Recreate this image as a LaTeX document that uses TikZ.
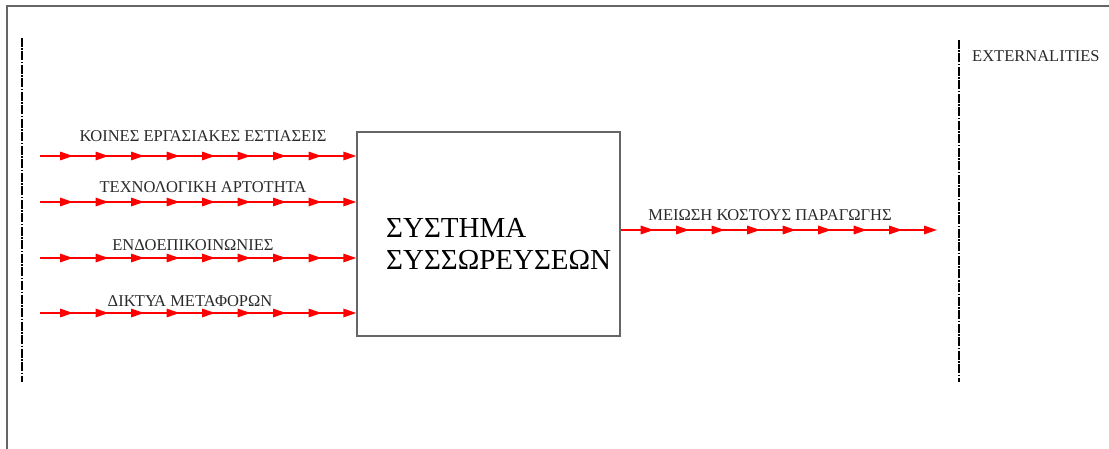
\documentclass[tikz,border=0pt]{standalone}
\usepackage{fontspec}
\setmainfont{Liberation Serif}
\usetikzlibrary{arrows.meta,decorations.markings}
\definecolor{txt}{HTML}{2a2a2a}
\definecolor{frame}{HTML}{666666}
\tikzset{
  flow/.style={draw=red, line width=1.6pt, -{Triangle[length=13pt,width=8.5pt]},
    postaction={decorate},
    decoration={markings, mark=between positions 33pt and 290pt step 35.5pt with {\arrow{Triangle[length=13pt,width=8.5pt]}}}},
  flowlabel/.style={text=txt, font=\fontsize{16.5}{18}\selectfont, inner sep=0pt},
  boundary/.style={draw=black, line width=2.8pt, dash pattern=on 9pt off 1.5pt on 1.5pt off 1.5pt},
  sysbox/.style={draw=frame, line width=1.4pt, minimum width=263pt, minimum height=204pt, inner sep=0pt},
}
\begin{document}
\begin{tikzpicture}[x=1pt,y=-1pt]
\useasboundingbox (0,0) rectangle (1109,449);
% frame
\draw[frame, line width=1.6pt] (7,449) -- (7,6) -- (1109,6);
% boundaries
\coordinate (lt) at (22,38);
\coordinate (lb) at (22,382);
\coordinate (rt) at (959,40);
\coordinate (rb) at (959,382);
\draw[boundary] (lt) -- (lb);
\draw[boundary] (rt) -- (rb);
% central box
\node[sysbox] (box) at (488.5,234) {};
\node[anchor=west, align=left, text=black, font=\fontsize{29}{32}\selectfont, inner sep=0pt] (boxlabel) at (386,244) {ΣΥΣΤΗΜΑ\\ΣΥΣΣΩΡΕΥΣΕΩΝ};
% inputs
\coordinate (s1) at (40,156);
\coordinate (s2) at (40,202);
\coordinate (s3) at (40,258);
\coordinate (s4) at (40,313);
\draw[flow] (s1) -- (s1 -| box.west);
\draw[flow] (s2) -- (s2 -| box.west);
\draw[flow] (s3) -- (s3 -| box.west);
\draw[flow] (s4) -- (s4 -| box.west);
\node[flowlabel] (l1) at (203,136) {ΚΟΙΝΕΣ ΕΡΓΑΣΙΑΚΕΣ ΕΣΤΙΑΣΕΙΣ};
\node[flowlabel] (l2) at (203,187) {ΤΕΧΝΟΛΟΓΙΚΗ ΑΡΤΟΤΗΤΑ};
\node[flowlabel] (l3) at (193,245) {ΕΝΔΟΕΠΙΚΟΙΝΩΝΙΕΣ};
\node[flowlabel] (l4) at (190,301) {ΔΙΚΤΥΑ ΜΕΤΑΦΟΡΩΝ};
% output
\coordinate (out) at (937,230);
\draw[flow] (box.east |- out) -- (out);
\node[flowlabel] (lo) at (770,215) {ΜΕΙΩΣΗ ΚΟΣΤΟΥΣ ΠΑΡΑΓΩΓΗΣ};
\node[flowlabel, anchor=west] (ext) at (972,56) {EXTERNALITIES};
\end{tikzpicture}
\end{document}
